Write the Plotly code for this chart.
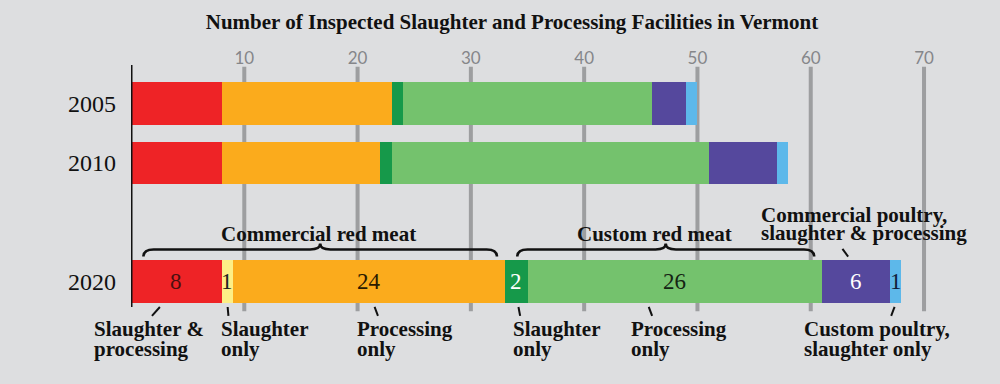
import plotly.graph_objects as go

# ---------------- data ----------------
years = ["2005", "2010", "2020"]
year_pos = [0, 1, 3]          # 2020 sits one slot further down

segment_names = [
    "Commercial red meat: slaughter & processing",
    "Commercial red meat: slaughter only",
    "Commercial red meat: processing only",
    "Custom red meat: slaughter only",
    "Custom red meat: processing only",
    "Commercial poultry, slaughter & processing",
    "Custom poultry, slaughter only",
]
red_vals = [8, 8, 8]
yellow_vals = [0, 0, 1]
orange_vals = [15, 14, 24]
dkgreen_vals = [1, 1, 2]
ltgreen_vals = [22, 28, 26]
purple_vals = [3, 6, 6]
blue_vals = [1, 1, 1]
series = [red_vals, yellow_vals, orange_vals, dkgreen_vals, ltgreen_vals, purple_vals, blue_vals]

colors = ["#ee2326", "#fdef86", "#fbab1c", "#16994a", "#74c26d", "#55489d", "#5db8ea"]
label_colors = ["#4a1010", "#222222", "#2a1a00", "#ffffff", "#142414", "#ffffff", "#10203a"]

x_ticks = [10, 20, 30, 40, 50, 60, 70]

bottom_labels = [  # (segment index, lines)
    (0, ["Slaughter &", "processing"]),
    (1, ["Slaughter", "only"]),
    (2, ["Processing", "only"]),
    (3, ["Slaughter", "only"]),
    (4, ["Processing", "only"]),
    (6, ["Custom poultry,", "slaughter only"]),
]
top_label = (5, ["Commercial poultry,", "slaughter & processing"])
groups = [("Commercial red meat", 0, 2, -0.15), ("Custom red meat", 3, 4, -1.0)]

# ---------------- figure ----------------
BG = "#dddee0"
SERIF = "Liberation Serif"
INK = "#111111"
X_RANGE = [0, 76]
fig = go.Figure()

for name, vals, c in zip(segment_names, series, colors):
    fig.add_trace(go.Bar(
        y=year_pos, x=vals, orientation="h", name=name,
        marker=dict(color=c, line=dict(width=0)), width=0.72,
        hoverinfo="x+name",
    ))

# 2020 cumulative positions
v2020 = [s[2] for s in series]
starts, ends = [], []
acc = 0
for v in v2020:
    starts.append(acc)
    acc += v
    ends.append(acc)
mids = [(a + b) / 2 for a, b in zip(starts, ends)]
y20 = year_pos[2]

annotations = []
# numbers inside the 2020 bar
for i, v in enumerate(v2020):
    annotations.append(dict(x=mids[i], y=y20, text=str(v), showarrow=False,
                            font=dict(family=SERIF, size=23, color=label_colors[i]),
                            xanchor="center", yanchor="middle"))

shapes = []
# gridlines
for t in x_ticks:
    shapes.append(dict(type="line", xref="x", yref="y", x0=t, x1=t, y0=-0.62, y1=y20 + 0.50,
                       line=dict(color="#9d9ea0", width=4), layer="below"))
# axis line
shapes.append(dict(type="line", xref="x", yref="y", x0=0, x1=0, y0=-0.72, y1=y20 + 0.43,
                   line=dict(color=INK, width=3), layer="above"))

# braces
def brace(a, b, y_end, y_line, y_tip, d=0.9):
    m = (a + b) / 2
    return (f"M {a},{y_end} Q {a},{y_line} {a + d},{y_line} L {m - d},{y_line} "
            f"Q {m},{y_line} {m},{y_tip} Q {m},{y_line} {m + d},{y_line} "
            f"L {b - d},{y_line} Q {b},{y_line} {b},{y_end}")

for text, i0, i1, shift in groups:
    a = starts[i0] + 1.1
    b = ends[i1] - 0.7
    shapes.append(dict(type="path", xref="x", yref="y",
                       path=brace(a, b, y20 - 0.42, y20 - 0.54, y20 - 0.64),
                       line=dict(color=INK, width=2.6), layer="above"))
    annotations.append(dict(x=(a + b) / 2 + shift, y=y20 - 0.80, text=f"<b>{text}</b>", showarrow=False,
                            font=dict(family=SERIF, size=21, color=INK),
                            xanchor="center", yanchor="middle"))


def x_ref(xv):
    """Data x if inside the axis range, otherwise the same spot in paper units."""
    if X_RANGE[0] <= xv <= X_RANGE[1]:
        return "x", xv
    return "paper", (xv - X_RANGE[0]) / (X_RANGE[1] - X_RANGE[0])


# bottom labels with leaders (offsets relative to segment middles)
leader_off = {0: (-1.45, -2.15), 1: (0.03, 0.1), 2: (0.5, 0.8), 3: (0.2, 0.35),
              4: (-2.3, -2.0), 6: (-0.1, -0.4)}
text_left = {0: -7.4, 1: -0.71, 2: -1.23, 3: -0.49, 4: -4.05, 6: -8.25}
for i, lines in bottom_labels:
    t0, t1 = leader_off[i]
    shapes.append(dict(type="line", xref="x", yref="y", x0=mids[i] + t0, x1=mids[i] + t1,
                       y0=y20 + 0.43, y1=y20 + 0.58, line=dict(color=INK, width=2)))
    xr, xv = x_ref(mids[i] + text_left[i])
    for k, ln in enumerate(lines):
        annotations.append(dict(xref=xr, x=xv, y=y20 + 0.80 + 0.34 * k, text=f"<b>{ln}</b>",
                                showarrow=False, font=dict(family=SERIF, size=21, color=INK),
                                xanchor="left", yanchor="middle"))

# top label (commercial poultry)
i, lines = top_label
shapes.append(dict(type="line", xref="x", yref="y", x0=mids[i] - 1.2, x1=mids[i] - 0.7,
                   y0=y20 - 0.55, y1=y20 - 0.42, line=dict(color=INK, width=2)))
for k, ln in enumerate(lines):
    annotations.append(dict(x=mids[i] - 8.6, y=y20 - 1.12 + 0.30 * k, text=f"<b>{ln}</b>", showarrow=False,
                            font=dict(family=SERIF, size=21, color=INK),
                            xanchor="left", yanchor="middle"))

fig.update_layout(
    width=1000, height=384,
    margin=dict(l=131, r=8, t=65, b=10),
    paper_bgcolor=BG, plot_bgcolor=BG,
    barmode="stack", showlegend=False,
    title=dict(text="<b>Number of Inspected Slaughter and Processing Facilities in Vermont</b>",
               font=dict(family=SERIF, size=21, color=INK),
               x=0.512, xanchor="center", y=1 - 22 / 384, yanchor="middle"),
    xaxis=dict(range=X_RANGE, side="top", tickvals=x_ticks, ticktext=[str(t) for t in x_ticks],
               showgrid=False, zeroline=False, showline=False, ticks="",
               tickfont=dict(family="Lato", size=17, color="#85868a"), ticklabelstandoff=-3),
    yaxis=dict(range=[4.56, -0.65], tickvals=year_pos, ticktext=years,
               showgrid=False, zeroline=False, showline=False, ticks="",
               tickfont=dict(family=SERIF, size=24, color=INK), ticklabelstandoff=14),
    shapes=shapes, annotations=annotations,
)

fig.write_html("out.html", config={"displayModeBar": False},
               post_script="document.body.style.margin='0';")
